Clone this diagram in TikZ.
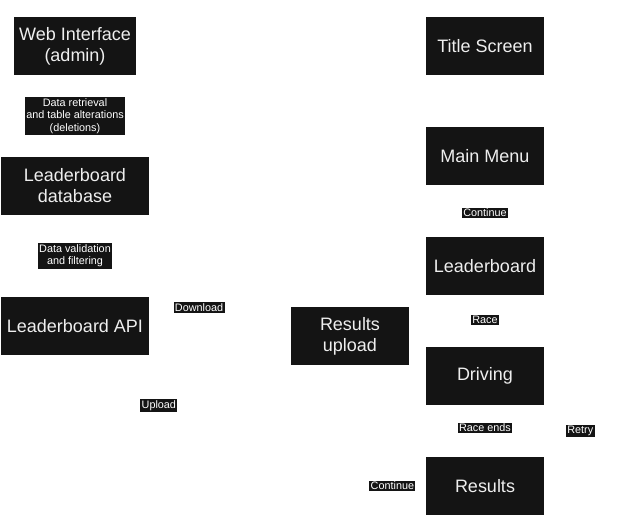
\documentclass[tikz,border=0pt]{standalone}
\usepackage{fontspec}
\setmainfont{Liberation Sans}
\definecolor{boxfill}{HTML}{141414}
\definecolor{boxtext}{HTML}{EEEEEE}
\tikzset{
  screen/.style={fill=boxfill, text=boxtext, minimum width=2.95cm, minimum height=1.45cm,
    align=center, font=\fontsize{12.8}{14.9}\selectfont},
  wide/.style={screen, minimum width=3.7cm},
  tag/.style={fill=boxfill, text=white, inner sep=1pt, align=center,
    font=\fontsize{7.7}{8.7}\selectfont},
  link/.style={draw=white}
}

\begin{document}
\begin{tikzpicture}
    \useasboundingbox (0,0) rectangle (15.525,-13.175);

    % Admin side
    \node[screen] (web) at (1.875,-1.15) {Web Interface\\(admin)};
    \node[wide, below of=web, node distance=3.5cm] (db) {Leaderboard\\database};
    \node[wide, below of=db, node distance=3.5cm] (api) {Leaderboard API};
    \node[screen] (upload) at (8.75,-8.4) {Results\\upload};

    % Game screens
    \node[screen] (title) at (12.125,-1.15) {Title Screen};
    \node[screen, below of=title, node distance=2.75cm] (menu) {Main Menu};
    \node[screen, below of=menu, node distance=2.75cm] (board) {Leaderboard};
    \node[screen, below of=board, node distance=2.75cm] (driving) {Driving};
    \node[screen, below of=driving, node distance=2.75cm] (results) {Results};

    % Connectors
    \draw[link] (web) -- node[tag] {Data retrieval\\and table alterations\\(deletions)} (db);
    \draw[link] (db) -- node[tag] {Data validation\\and filtering} (api);
    \draw[link] (api) -- node[tag, pos=0.18] {Download} (board);
    \draw[link] (upload.south) .. controls +(-3.575,-1.375) and +(0,-1.625) .. node[tag] {Upload} (api.south);

    \draw[link] (title) -- (menu);
    \draw[link] (menu) -- node[tag, pos=0.54] {Continue} (board);
    \draw[link] (board) -- node[tag, pos=0.48] {Race} (driving);
    \draw[link] (driving) -- node[tag, pos=0.44] {Race ends} (results);
    \draw[link] (results.east) .. controls +(1.2,0) and +(1.2,0) .. node[tag] {Retry} (driving.east);
    \draw[link] (results) -| node[tag, pos=0.22] {Continue} (upload);
\end{tikzpicture}
\end{document}
